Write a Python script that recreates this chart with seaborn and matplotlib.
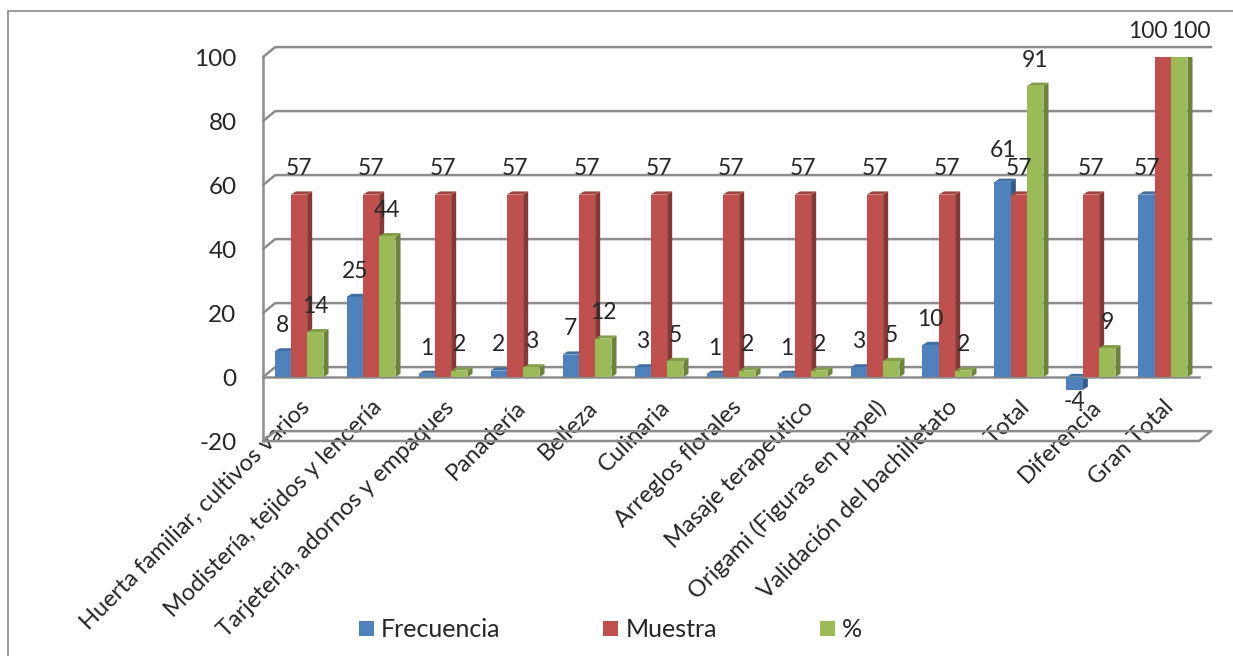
import numpy as np
import pandas as pd
import seaborn as sns
import matplotlib.pyplot as plt
from matplotlib.patches import Polygon
from matplotlib.lines import Line2D
from matplotlib.colors import to_rgb

# datos del grafico
categorias = ['Huerta familiar, cultivos varios', 'Modistería, tejidos y lencería',
              'Tarjeteria, adornos y empaques', 'Panadería', 'Belleza', 'Culinaria',
              'Arreglos florales', 'Masaje terapeutico', 'Origami (Figuras en papel)',
              'Validación del bachilletato', 'Total', 'Diferencia', 'Gran Total']
frecuencia = [8, 25, 1, 2, 7, 3, 1, 1, 3, 10, 61, -4, 57]
muestra = [57, 57, 57, 57, 57, 57, 57, 57, 57, 57, 57, 57, 100]
porcentaje = [14, 44, 2, 3, 12, 5, 2, 2, 5, 2, 91, 9, 100]
series = ['Frecuencia', 'Muestra', '%']
colores = ['#4F81BD', '#C0504D', '#9BBB59']
yticks = [-20, 0, 20, 40, 60, 80, 100]

sns.set_style('white')
plt.rcParams['font.family'] = ['Lato', 'DejaVu Sans']
plt.rcParams['axes.unicode_minus'] = False

df = pd.DataFrame({
    'categoria': categorias * 3,
    'serie': np.repeat(series, len(categorias)),
    'valor': frecuencia + muestra + porcentaje,
})

gris = '#8c8c8c'
fig = plt.figure(figsize=(12.33, 6.56), dpi=100)
ax = fig.add_axes([0.2133, 0.3277, 0.7591, 0.5854])
sns.barplot(data=df, x='categoria', y='valor', hue='serie', palette=colores,
            width=0.68, gap=0, saturation=1, ax=ax, zorder=3,
            edgecolor='none', linewidth=0)

ax.set_ylim(-20, 100)
ax.set_xlim(-0.5, 12.5)
ax.set_xlabel('')
ax.set_ylabel('')

# caras laterales y superiores (efecto 3D)
dx, dy = 0.07, 1.0
for cont, col in zip(ax.containers, colores):
    rgb = np.array(to_rgb(col))
    for bar in cont:
        x0 = bar.get_x()
        x1 = x0 + bar.get_width()
        lo = min(bar.get_y(), bar.get_y() + bar.get_height())
        hi = max(bar.get_y(), bar.get_y() + bar.get_height())
        ax.add_patch(Polygon([(x1, lo), (x1 + dx, lo + dy), (x1 + dx, hi + dy), (x1, hi)],
                             closed=True, fc=rgb * 0.7, ec='none', zorder=2.5))
        ax.add_patch(Polygon([(x0, hi), (x0 + dx, hi + dy), (x1 + dx, hi + dy), (x1, hi)],
                             closed=True, fc=rgb * 0.85, ec='none', zorder=2.5))

# etiquetas de datos
etiquetas = []
for cont, vals in zip(ax.containers, [frecuencia, muestra, porcentaje]):
    texts = ax.bar_label(cont, labels=[str(v) for v in vals], padding=11, fontsize=16.5, zorder=6)
    for t, v in zip(texts, vals):
        if v < 0:
            t.xyann = (0, -1)
    etiquetas.append(texts)
# separar las etiquetas que chocan en "Gran Total" y "Total"
etiquetas[1][12].xyann = (-11, 11)
etiquetas[2][12].xyann = (8, 11)
etiquetas[0][10].xyann = (0, 15)

# pared del fondo (rejilla desplazada)
gx, gy = 0.17, 3.1
for v in yticks:
    ax.plot([-0.5, -0.5 + gx, 12.5 + gx], [v, v + gy, v + gy], color=gris, lw=1.8,
            zorder=1, clip_on=False)
ax.plot([-0.5, 12.5, 12.5 + gx], [-20, -20, -20 + gy], color=gris, lw=1.8, zorder=1, clip_on=False)

for s in ['top', 'right']:
    ax.spines[s].set_visible(False)
ax.spines['bottom'].set_position(('data', 0))
ax.spines['bottom'].set_color(gris)
ax.spines['bottom'].set_linewidth(1.8)
ax.spines['left'].set_color(gris)
ax.spines['left'].set_linewidth(1.8)

ax.set_yticks(yticks)
ax.tick_params(axis='y', length=7, width=1.5, color=gris, labelsize=17.5, pad=12)
ax.set_xticks(range(len(categorias)))
ax.set_xticklabels(categorias, rotation=45, ha='right', va='top', rotation_mode='anchor',
                   fontsize=17)
ax.set_xticks(np.arange(-0.5, len(categorias), 1), minor=True)
ax.tick_params(axis='x', which='major', length=0, pad=14)
ax.tick_params(axis='x', which='minor', length=7, width=1.5, color=gris, direction='out')

handles, labels = ax.get_legend_handles_labels()
ax.legend_.remove()
fig.legend(handles, labels, loc='center', bbox_to_anchor=(0.495, 0.04), ncol=3,
           frameon=False, fontsize=18, handlelength=0.6, handleheight=0.6,
           handletextpad=0.3, columnspacing=4.1)

# borde del area del grafico
fig.add_artist(Line2D([8 / 1233, 8 / 1233], [0, 1 - 11 / 656], transform=fig.transFigure,
                      color=gris, lw=1.2))
fig.add_artist(Line2D([8 / 1233, 1], [1 - 11 / 656, 1 - 11 / 656], transform=fig.transFigure,
                      color=gris, lw=1.2))

fig.savefig('out.png', dpi=100)
